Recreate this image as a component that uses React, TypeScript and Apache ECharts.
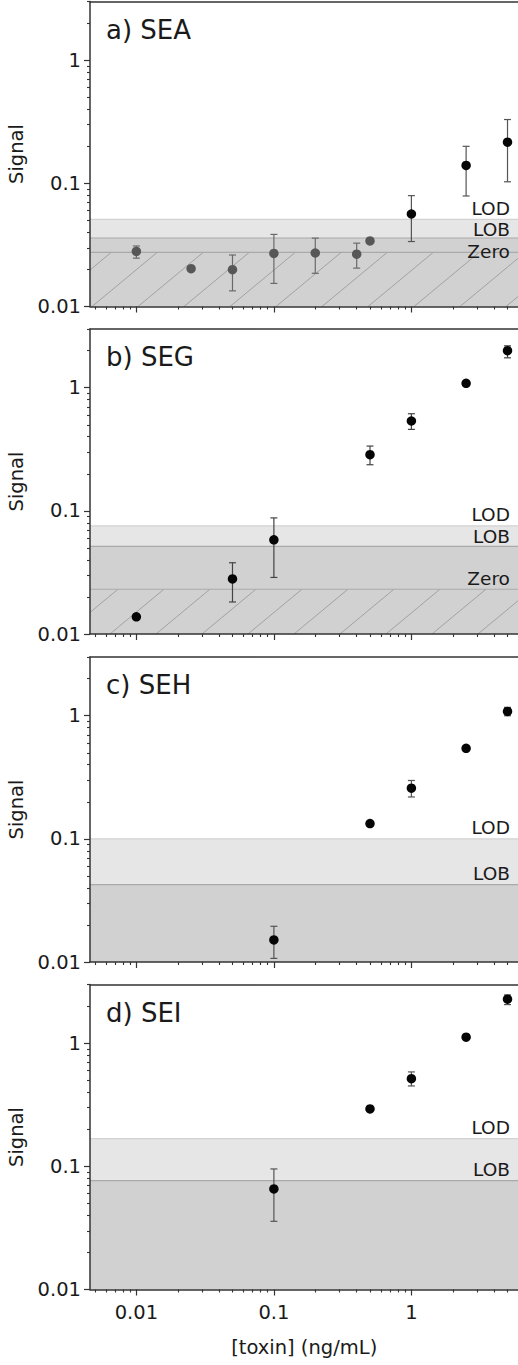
import React, { useEffect, useRef } from "react";
import * as echarts from "echarts";

const FONT = "DejaVu Sans";

// axis ranges and ticks
const xRange = [0.0046, 6];
const yRange = [0.01, 3];
const xMajorTicks = [0.01, 0.1, 1];
const xMinorTicks = [0.005, 0.006, 0.007, 0.008, 0.009, 0.02, 0.03, 0.04, 0.05, 0.06, 0.07, 0.08, 0.09, 0.2, 0.3, 0.4, 0.5, 0.6, 0.7, 0.8, 0.9, 2, 3, 4, 5];
const yMajorTicks = [0.01, 0.1, 1];
const yMinorTicks = [0.02, 0.03, 0.04, 0.05, 0.06, 0.07, 0.08, 0.09, 0.2, 0.3, 0.4, 0.5, 0.6, 0.7, 0.8, 0.9, 2, 3];

const panelTitles = ["a) SEA", "b) SEG", "c) SEH", "d) SEI"];
const thresholdNames = ["LOD", "LOB", "Zero"];
const xTitle = "[toxin] (ng/mL)";
const yTitle = "Signal";

// a) SEA
const seaThresholds = [0.051, 0.036, 0.0275];
const seaGrayX = [0.01, 0.025, 0.05, 0.1, 0.2, 0.4, 0.5];
const seaGrayY = [0.028, 0.0203, 0.0199, 0.027, 0.0272, 0.0266, 0.0341];
const seaGrayLow = [0.0247, null, 0.0134, 0.0154, 0.0186, 0.0205, null];
const seaGrayHigh = [0.031, null, 0.0262, 0.0385, 0.0359, 0.0327, null];
const seaX = [1, 2.5, 5];
const seaY = [0.0564, 0.14, 0.216];
const seaLow = [0.0337, 0.079, 0.103];
const seaHigh = [0.0795, 0.2, 0.33];

// b) SEG
const segThresholds = [0.0755, 0.0514, 0.0231];
const segX = [0.01, 0.05, 0.1, 0.5, 1, 2.5, 5];
const segY = [0.0138, 0.028, 0.0582, 0.286, 0.537, 1.087, 2.0];
const segLow = [null, 0.0182, 0.0288, 0.237, 0.459, null, 1.75];
const segHigh = [null, 0.0379, 0.0877, 0.336, 0.615, null, 2.19];

// c) SEH
const sehThresholds = [0.1, 0.0425];
const sehX = [0.1, 0.5, 1, 2.5, 5];
const sehY = [0.0151, 0.133, 0.258, 0.544, 1.083];
const sehLow = [0.0107, null, 0.219, null, 1.0];
const sehHigh = [0.0195, null, 0.298, null, 1.17];

// d) SEI
const seiThresholds = [0.168, 0.0766];
const seiX = [0.1, 0.5, 1, 2.5, 5];
const seiY = [0.0656, 0.293, 0.516, 1.12, 2.28];
const seiLow = [0.0358, null, 0.45, null, 2.06];
const seiHigh = [0.0953, null, 0.585, null, 2.47];

type Group = { x: number[]; y: number[]; low: (number | null)[]; high: (number | null)[]; color: string; bar: string };

const panels: { title: string; thresholds: number[]; groups: Group[]; hatchPhase: number }[] = [
  {
    title: panelTitles[0],
    thresholds: seaThresholds,
    hatchPhase: 2,
    groups: [
      { x: seaGrayX, y: seaGrayY, low: seaGrayLow, high: seaGrayHigh, color: "#575757", bar: "#6a6a6a" },
      { x: seaX, y: seaY, low: seaLow, high: seaHigh, color: "#050505", bar: "#555555" },
    ],
  },
  { title: panelTitles[1], thresholds: segThresholds, hatchPhase: 20, groups: [{ x: segX, y: segY, low: segLow, high: segHigh, color: "#050505", bar: "#444444" }] },
  { title: panelTitles[2], thresholds: sehThresholds, hatchPhase: 0, groups: [{ x: sehX, y: sehY, low: sehLow, high: sehHigh, color: "#050505", bar: "#555555" }] },
  { title: panelTitles[3], thresholds: seiThresholds, hatchPhase: 0, groups: [{ x: seiX, y: seiY, low: seiLow, high: seiHigh, color: "#050505", bar: "#555555" }] },
];

const GRID_TOPS = [1.5, 329, 657, 984.5];
const GRID_H = 305;
const GRID_LEFT = 90;
const GRID_W = 428.4;
const AXIS_COLOR = "#333333";
const TEXT_COLOR = "#1a1a1a";

function thresholdRenderer(thresholds: number[], hatchPhase: number) {
  return (params: any, api: any) => {
    const cs = params.coordSys;
    const idx = params.dataIndex;
    const left = cs.x;
    const right = cs.x + cs.width;
    const bottom = cs.y + cs.height;
    const y = api.coord([1, api.value(1)])[1];
    const yNext = api.coord([1, api.value(2)])[1];
    const name = thresholdNames[idx];
    const children: any[] = [];
    if (name === "LOD") {
      children.push({ type: "rect", shape: { x: left, y, width: right - left, height: yNext - y }, style: { fill: "#e6e6e6" } });
      children.push({ type: "line", shape: { x1: left, y1: y, x2: right, y2: y }, style: { stroke: "#d2d2d2", lineWidth: 1.2 } });
    } else if (name === "LOB") {
      children.push({ type: "rect", shape: { x: left, y, width: right - left, height: bottom - y }, style: { fill: "#d1d1d1" } });
      children.push({ type: "line", shape: { x1: left, y1: y, x2: right, y2: y }, style: { stroke: "#aaaaaa", lineWidth: 1.2 } });
    } else {
      const spacing = 46;
      const slope = 0.83;
      const run = (bottom - y) / slope;
      const startK = Math.ceil(run / spacing) + 1;
      for (let xs = left + hatchPhase - startK * spacing; xs < right; xs += spacing) {
        let x1 = xs, y1 = bottom, x2 = xs + run, y2 = y;
        if (x1 < left) { y1 = bottom - (left - xs) * slope; x1 = left; }
        if (x2 > right) { y2 = bottom - (right - xs) * slope; x2 = right; }
        if (x2 <= x1) continue;
        children.push({ type: "line", shape: { x1, y1, x2, y2 }, style: { stroke: "#9c9c9c", lineWidth: 0.9 } });
      }
      children.push({ type: "line", shape: { x1: left, y1: y, x2: right, y2: y }, style: { stroke: "#aaaaaa", lineWidth: 1.2 } });
    }
    // label placement, avoiding overlap with the label above
    let prev = -Infinity;
    let cy = 0;
    for (let k = 0; k <= idx; k++) {
      const ly = api.coord([1, thresholds[k]])[1];
      cy = Math.max(ly - 11, prev + 21.5);
      prev = cy;
    }
    children.push({
      type: "text",
      x: right - 8.5,
      y: cy,
      style: { text: name, fill: TEXT_COLOR, fontSize: 18.5, fontFamily: FONT, align: "right", verticalAlign: "middle" },
    });
    return { type: "group", children };
  };
}

function errorBarRenderer(color: string) {
  return (params: any, api: any) => {
    const x = api.value(0);
    const top = api.coord([x, api.value(2)]);
    const bot = api.coord([x, api.value(1)]);
    const c = 3.5;
    const style = { stroke: color, lineWidth: 1.2 };
    return {
      type: "group",
      children: [
        { type: "line", shape: { x1: top[0], y1: top[1], x2: bot[0], y2: bot[1] }, style },
        { type: "line", shape: { x1: top[0] - c, y1: top[1], x2: top[0] + c, y2: top[1] }, style },
        { type: "line", shape: { x1: bot[0] - c, y1: bot[1], x2: bot[0] + c, y2: bot[1] }, style },
      ],
    };
  };
}

function buildOption() {
  const grid: any[] = [];
  const xAxis: any[] = [];
  const yAxis: any[] = [];
  const series: any[] = [];
  const graphic: any[] = [];

  panels.forEach((p, i) => {
    grid.push({ left: GRID_LEFT, top: GRID_TOPS[i], width: GRID_W, height: GRID_H, outerBoundsMode: "none", containLabel: false });
    const last = i === panels.length - 1;
    // major x axis
    xAxis.push({
      type: "log", logBase: 10, gridIndex: i, position: "bottom", min: xRange[0], max: xRange[1], z: 5,
      axisLine: { show: true, lineStyle: { color: AXIS_COLOR, width: 1.5 } },
      axisTick: { show: true, inside: false, length: 6, customValues: xMajorTicks, lineStyle: { color: AXIS_COLOR, width: 1.2 } },
      axisLabel: { show: last, customValues: xMajorTicks, margin: 13, fontSize: 19.5, fontFamily: FONT, color: TEXT_COLOR },
      splitLine: { show: false },
      minorTick: { show: false },
      name: last ? xTitle : "", nameLocation: "middle", nameGap: 48, nameMoveOverlap: false,
      nameTextStyle: { fontSize: 19.5, fontFamily: FONT, color: TEXT_COLOR },
    });
    // minor x ticks
    xAxis.push({
      type: "log", logBase: 10, gridIndex: i, position: "bottom", min: xRange[0], max: xRange[1], z: 5,
      axisLine: { show: false },
      axisTick: { show: true, inside: false, length: 3, customValues: xMinorTicks, lineStyle: { color: AXIS_COLOR, width: 1.1 } },
      axisLabel: { show: false },
      splitLine: { show: false },
    });
    // top border
    xAxis.push({
      type: "log", logBase: 10, gridIndex: i, position: "top", min: xRange[0], max: xRange[1], z: 5,
      axisLine: { show: true, lineStyle: { color: AXIS_COLOR, width: 1.5 } },
      axisTick: { show: false }, axisLabel: { show: false }, splitLine: { show: false },
    });
    // major y axis
    yAxis.push({
      type: "log", logBase: 10, gridIndex: i, position: "left", min: yRange[0], max: yRange[1], z: 5,
      axisLine: { show: true, lineStyle: { color: AXIS_COLOR, width: 1.5 } },
      axisTick: { show: true, inside: false, length: 6, customValues: yMajorTicks, lineStyle: { color: AXIS_COLOR, width: 1.2 } },
      axisLabel: { show: true, customValues: yMajorTicks, margin: 9, fontSize: 19.5, fontFamily: FONT, color: TEXT_COLOR },
      splitLine: { show: false },
      name: yTitle, nameLocation: "middle", nameGap: 64, nameRotate: 90, nameMoveOverlap: false,
      nameTextStyle: { fontSize: 19.5, fontFamily: FONT, color: TEXT_COLOR },
    });
    // minor y ticks
    yAxis.push({
      type: "log", logBase: 10, gridIndex: i, position: "left", min: yRange[0], max: yRange[1], z: 5,
      axisLine: { show: false },
      axisTick: { show: true, inside: false, length: 3, customValues: yMinorTicks, lineStyle: { color: AXIS_COLOR, width: 1.1 } },
      axisLabel: { show: false },
      splitLine: { show: false },
    });

    const xi = i * 3;
    const yi = i * 2;
    series.push({
      type: "custom", xAxisIndex: xi, yAxisIndex: yi, z: 1, silent: true, clip: false,
      encode: { x: 0, y: [1, 2] },
      data: p.thresholds.map((t, k) => [1, t, k + 1 < p.thresholds.length ? p.thresholds[k + 1] : t]),
      renderItem: thresholdRenderer(p.thresholds, p.hatchPhase),
    });
    p.groups.forEach((g) => {
      const bars: number[][] = [];
      g.x.forEach((xv, k) => {
        const lo = g.low[k];
        const hi = g.high[k];
        if (lo != null && hi != null) bars.push([xv, lo, hi]);
      });
      series.push({
        type: "custom", xAxisIndex: xi, yAxisIndex: yi, z: 3, silent: true,
        encode: { x: 0, y: [1, 2] },
        data: bars,
        renderItem: errorBarRenderer(g.bar),
      });
      series.push({
        type: "scatter", xAxisIndex: xi, yAxisIndex: yi, z: 4, silent: true,
        symbol: "circle", symbolSize: 9.5,
        itemStyle: { color: g.color, opacity: 1 },
        data: g.x.map((xv, k) => [xv, g.y[k]]),
      });
    });
    graphic.push({
      type: "text", x: 106, y: GRID_TOPS[i] + 28, z: 10,
      style: { text: p.title, fill: TEXT_COLOR, fontSize: 26, fontFamily: FONT, align: "left", verticalAlign: "middle" },
    });
  });

  return { animation: false, backgroundColor: "#ffffff", grid, xAxis, yAxis, series, graphic };
}

export default function App() {
  const ref = useRef<HTMLDivElement>(null);
  useEffect(() => {
    if (!ref.current) return;
    const chart = echarts.init(ref.current, null, { renderer: "svg" });
    chart.setOption(buildOption() as any);
    return () => chart.dispose();
  }, []);
  return <div ref={ref} style={{ position: "absolute", left: 0, top: 0, width: 518, height: 1365 }} />;
}
